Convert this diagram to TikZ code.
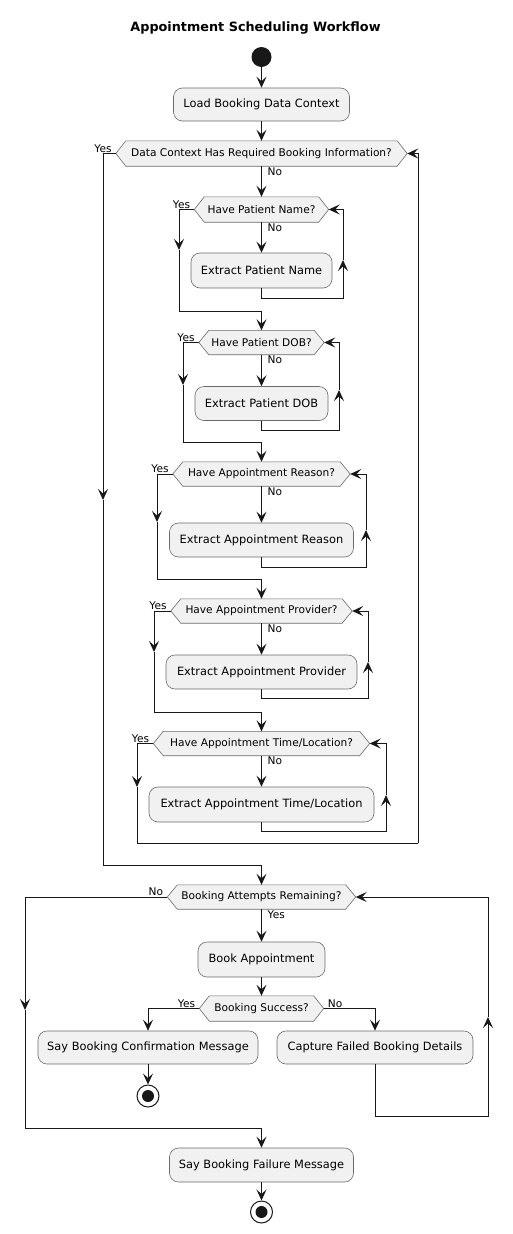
\documentclass[tikz,border=0pt]{standalone}
\usepackage{fontspec}
\setmainfont{DejaVu Sans}
\usetikzlibrary{arrows.meta}
\pgfdeclarelayer{bg}
\pgfsetlayers{bg,main}
\definecolor{actfill}{HTML}{F1F1F1}
\definecolor{ink}{HTML}{181818}
\definecolor{edge}{HTML}{6A6A6A}

\tikzset{
  flow/.style={draw=ink, line width=1pt},
  arr/.style={flow, -{Stealth[length=11pt,width=10pt,inset=4.5pt]}},
  action/.style={rounded corners=9pt, draw=edge, line width=0.6pt, fill=actfill,
    minimum height=34pt, inner sep=0pt, font=\fontsize{11.4}{13}\selectfont},
  decision/.style={minimum height=24pt, inner sep=0pt, font=\fontsize{10.6}{12}\selectfont},
  hexshape/.style={draw=edge, line width=0.6pt, fill=actfill},
  lbl/.style={inner sep=1pt, font=\fontsize{10.6}{12}\selectfont},
  startdot/.style={circle, fill=ink, minimum size=20pt, inner sep=0pt},
  stopdot/.style={circle, draw=ink, line width=1pt, fill=white, minimum size=22pt, inner sep=0pt},
}

% outline of a decision node: a flat hexagon through the node's anchors
\newcommand\hexoutline[1]{%
  \draw[hexshape] (#1.west) -- ([xshift=10pt]#1.north west) -- ([xshift=-10pt]#1.north east)
    -- (#1.east) -- ([xshift=-10pt]#1.south east) -- ([xshift=10pt]#1.south west) -- cycle;}

\begin{document}
\begin{tikzpicture}[x=1pt, y=-1pt]
\useasboundingbox (0,0) rectangle (512,1234);

\node[font=\bfseries\fontsize{12.8}{15}\selectfont] (title) at (255.5,28) {Appointment Scheduling Workflow};

\node[startdot] (start) at (261.5,57) {};
\node[action, minimum width=176pt, minimum height=33pt] (b0) at (261.5,104.5) {Load Booking Data Context};

% repeat loop: gather the booking information
\node[decision, minimum width=291pt, minimum height=25pt] (d0) at (261.5,153.5) {Data Context Has Required Booking Information?};

\node[decision, minimum width=134pt, minimum height=25pt] (d1) at (261.5,209.5) {Have Patient Name?};
\node[action, minimum width=141pt, minimum height=35pt] (b1) at (261.5,270.5) {Extract Patient Name};

\node[decision, minimum width=125pt] (d2) at (261.5,342.5) {Have Patient DOB?};
\node[action, minimum width=133pt] (b2) at (261.5,403.5) {Extract Patient DOB};

\node[decision, minimum width=177pt] (d3) at (261.5,474) {Have Appointment Reason?};
\node[action, minimum width=184pt] (b3) at (261.5,540) {Extract Appointment Reason};

\node[decision, minimum width=181pt] (d4) at (261.5,611) {Have Appointment Provider?};
\node[action, minimum width=191pt] (b4) at (261.5,672) {Extract Appointment Provider};

\node[decision, minimum width=216pt] (d5) at (261.5,743.5) {Have Appointment Time/Location?};
\node[action, minimum width=225pt, minimum height=35pt] (b5) at (261.5,804.5) {Extract Appointment Time/Location};

% booking attempts
\node[decision, minimum width=188pt] (d6) at (261.5,897) {Booking Attempts Remaining?};
\node[action, minimum width=127pt, minimum height=35pt] (b6) at (261.5,959.5) {Book Appointment};
\node[decision, minimum width=124pt, minimum height=25pt] (d7) at (261.5,1008.5) {Booking Success?};
\node[action, minimum width=220pt, minimum height=33pt] (b7) at (148,1047.5) {Say Booking Confirmation Message};
\node[action, minimum width=196pt, minimum height=33pt] (b8) at (375,1047.5) {Capture Failed Booking Details};
\node[stopdot] (end1) at (148,1096) {};
\fill[ink] (end1) circle (6pt);
\node[action, minimum width=184pt] (b9) at (261.5,1165) {Say Booking Failure Message};
\node[stopdot] (end2) at (261.5,1212) {};
\fill[ink] (end2) circle (6pt);

\begin{pgfonlayer}{bg}
  \hexoutline{d0}\hexoutline{d1}\hexoutline{d2}\hexoutline{d3}
  \hexoutline{d4}\hexoutline{d5}\hexoutline{d6}\hexoutline{d7}
\end{pgfonlayer}

% bend points and mid-segment arrow tips
\coordinate (oy) at (103,500);
\coordinate (j6) at (261.5,865);
\coordinate (r0) at (418,843);
\coordinate (c1) at (343,298);  \coordinate (l1) at (343,260);
\coordinate (y1) at (179,250);  \coordinate (j2) at (261.5,311);
\coordinate (c2) at (339,430);  \coordinate (l2) at (339,390);
\coordinate (y2) at (183,385);  \coordinate (j3) at (261.5,442);
\coordinate (c3) at (366,567);  \coordinate (l3) at (366,530);
\coordinate (y3) at (157,522);  \coordinate (j4) at (261.5,579);
\coordinate (c4) at (368,698);  \coordinate (l4) at (368,662);
\coordinate (y4) at (154,652);  \coordinate (j5) at (261.5,712);
\coordinate (c5) at (386,831);  \coordinate (l5) at (386,795);
\coordinate (y5) at (137,787);
\coordinate (n6) at (25,1010);  \coordinate (j9) at (261.5,1128);
\coordinate (c8) at (488,1116); \coordinate (l8) at (488,1017);

\draw[arr] (start) -- (b0);
\draw[arr] (b0) -- (d0);

% outer decision
\draw[arr] (d0) -- (d1);
\node[lbl, anchor=north west] (n0) at ([xshift=5pt]d0.south) {No};
\draw[arr] (d0.west) -| (oy);
\draw[flow] (oy) |- (j6);
\node[lbl, anchor=south east] (e0) at ([xshift=-3pt]d0.west) {Yes};
\draw[arr] (j6) -- (d6);

% patient name
\draw[arr] (d1) -- (b1);
\node[lbl, anchor=north west] (n1) at ([xshift=5pt]d1.south) {No};
\draw[arr] (b1.south) |- (c1) -- (l1);
\draw[arr] (l1) |- (d1.east);
\draw[arr] (d1.west) -| (y1);
\node[lbl, anchor=south east] (e1) at ([xshift=-3pt]d1.west) {Yes};
\draw[flow] (y1) |- (j2);
\draw[arr] (j2) -- (d2);

% patient DOB
\draw[arr] (d2) -- (b2);
\node[lbl, anchor=north west] (n2) at ([xshift=5pt]d2.south) {No};
\draw[arr] (b2.south) |- (c2) -- (l2);
\draw[arr] (l2) |- (d2.east);
\draw[arr] (d2.west) -| (y2);
\node[lbl, anchor=south east] (e2) at ([xshift=-3pt]d2.west) {Yes};
\draw[flow] (y2) |- (j3);
\draw[arr] (j3) -- (d3);

% appointment reason
\draw[arr] (d3) -- (b3);
\node[lbl, anchor=north west] (n3) at ([xshift=5pt]d3.south) {No};
\draw[arr] (b3.south) |- (c3) -- (l3);
\draw[arr] (l3) |- (d3.east);
\draw[arr] (d3.west) -| (y3);
\node[lbl, anchor=south east] (e3) at ([xshift=-3pt]d3.west) {Yes};
\draw[flow] (y3) |- (j4);
\draw[arr] (j4) -- (d4);

% appointment provider
\draw[arr] (d4) -- (b4);
\node[lbl, anchor=north west] (n4) at ([xshift=5pt]d4.south) {No};
\draw[arr] (b4.south) |- (c4) -- (l4);
\draw[arr] (l4) |- (d4.east);
\draw[arr] (d4.west) -| (y4);
\node[lbl, anchor=south east] (e4) at ([xshift=-3pt]d4.west) {Yes};
\draw[flow] (y4) |- (j5);
\draw[arr] (j5) -- (d5);

% appointment time / location, then back to the outer check
\draw[arr] (d5) -- (b5);
\node[lbl, anchor=north west] (n5) at ([xshift=5pt]d5.south) {No};
\draw[arr] (b5.south) |- (c5) -- (l5);
\draw[arr] (l5) |- (d5.east);
\draw[arr] (d5.west) -| (y5);
\node[lbl, anchor=south east] (e5) at ([xshift=-3pt]d5.west) {Yes};
\draw[flow] (y5) |- (r0);
\draw[arr] (r0) |- (d0.east);

% booking attempts
\draw[arr] (d6) -- (b6);
\node[lbl, anchor=north west] (e6) at ([xshift=5pt]d6.south) {Yes};
\draw[arr] (d6.west) -| (n6);
\node[lbl, anchor=south east] (n6l) at ([xshift=-3pt]d6.west) {No};
\draw[flow] (n6) |- (j9);
\draw[arr] (j9) -- (b9);
\draw[arr] (b9) -- (end2);

\draw[arr] (b6) -- (d7);
\draw[arr] (d7.west) -| (b7.north);
\node[lbl, anchor=south east] (e7) at ([xshift=-3pt]d7.west) {Yes};
\draw[arr] (d7.east) -| (b8.north);
\node[lbl, anchor=south west] (n7) at ([xshift=3pt]d7.east) {No};
\draw[arr] (b7) -- (end1);
\draw[arr] (b8.south) |- (c8) -- (l8);
\draw[arr] (l8) |- (d6.east);
\end{tikzpicture}
\end{document}
